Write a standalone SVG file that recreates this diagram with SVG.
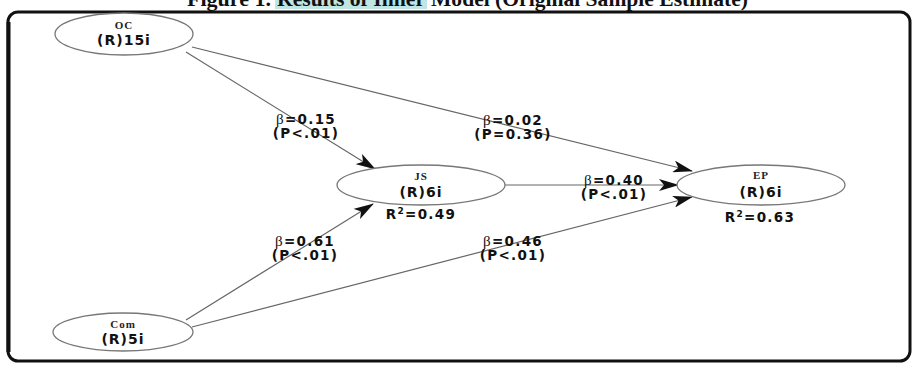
<svg xmlns="http://www.w3.org/2000/svg" width="914" height="365" viewBox="0 0 914 365">
<style>
.node ellipse{fill:#fff;stroke:#777;stroke-width:1.3}
.nm{font-family:"Liberation Serif",serif;font-weight:bold;font-size:11px;fill:#222;text-anchor:middle;letter-spacing:1px}
.rv{font-family:"DejaVu Sans",sans-serif;font-weight:bold;font-size:14px;fill:#111;text-anchor:middle;letter-spacing:1px}
.lb{font-family:"DejaVu Sans",sans-serif;font-weight:bold;font-size:13.5px;fill:#111;text-anchor:middle;letter-spacing:1.3px}
.bt{font-family:"Liberation Serif",serif;font-weight:normal;font-size:15px}
.conn line{stroke:#666;stroke-width:1.2;marker-end:url(#ah)}
.title{font-family:"Liberation Serif",serif;font-weight:bold;font-size:22px;fill:#111}
</style>
<defs>
<marker id="ah" viewBox="0 0 20 12" refX="19" refY="6" markerWidth="20" markerHeight="12" markerUnits="userSpaceOnUse" orient="auto">
<path d="M0,0 L20,6 L0,12 L5,6 Z" fill="#111"/>
</marker>
</defs>
<rect width="914" height="365" fill="#fff"/>
<rect x="275" y="0" width="152" height="9" fill="#bfe5e5"/>
<text class="title" x="187" y="6" textLength="84" lengthAdjust="spacingAndGlyphs">Figure 1.</text>
<text class="title" x="277" y="6" textLength="148" lengthAdjust="spacingAndGlyphs">Results of Inner</text>
<text class="title" x="431" y="6" textLength="317" lengthAdjust="spacingAndGlyphs">Model (Original Sample Estimate)</text>
<rect x="8" y="12" width="902" height="349" rx="10" fill="none" stroke="#111" stroke-width="3"/>
<line x1="8.5" y1="22" x2="8.5" y2="352" stroke="#111" stroke-width="4"/>
<g id="connectors" class="conn">
<line x1="186" y1="52" x2="375" y2="169"/>
<line x1="192" y1="47" x2="692" y2="171"/>
<line x1="505" y1="185" x2="678" y2="185"/>
<line x1="186" y1="320" x2="373" y2="204"/>
<line x1="192" y1="327" x2="692" y2="197"/>
</g>
<g id="labels">
<text class="lb" x="306" y="124"><tspan class="bt">β</tspan>=0.15</text>
<text class="lb" x="306" y="138">(P&lt;.01)</text>
<text class="lb" x="513" y="125"><tspan class="bt">β</tspan>=0.02</text>
<text class="lb" x="513" y="139">(P=0.36)</text>
<text class="lb" x="614" y="185"><tspan class="bt">β</tspan>=0.40</text>
<text class="lb" x="614" y="199">(P&lt;.01)</text>
<text class="lb" x="305" y="246"><tspan class="bt">β</tspan>=0.61</text>
<text class="lb" x="305" y="260">(P&lt;.01)</text>
<text class="lb" x="513" y="246"><tspan class="bt">β</tspan>=0.46</text>
<text class="lb" x="513" y="260">(P&lt;.01)</text>
</g>
<g id="OC" class="node">
<ellipse cx="124" cy="34" rx="69" ry="21"/>
<text class="nm" x="124" y="29">OC</text>
<text class="rv" x="124" y="45">(R)15i</text>
</g>
<g id="Com" class="node">
<ellipse cx="123" cy="332" rx="70" ry="19"/>
<text class="nm" x="123" y="328">Com</text>
<text class="rv" x="123" y="344">(R)5i</text>
</g>
<g id="JS" class="node">
<ellipse cx="421" cy="185" rx="84" ry="20"/>
<text class="nm" x="421" y="180">JS</text>
<text class="rv" x="421" y="197">(R)6i</text>
<text class="lb" x="421" y="219">R<tspan font-size="9" dy="-5">2</tspan><tspan dy="5">=0.49</tspan></text>
</g>
<g id="EP" class="node">
<ellipse cx="761" cy="185" rx="84" ry="20"/>
<text class="nm" x="761" y="179">EP</text>
<text class="rv" x="761" y="197">(R)6i</text>
<text class="lb" x="760" y="222">R<tspan font-size="9" dy="-5">2</tspan><tspan dy="5">=0.63</tspan></text>
</g>
</svg>
